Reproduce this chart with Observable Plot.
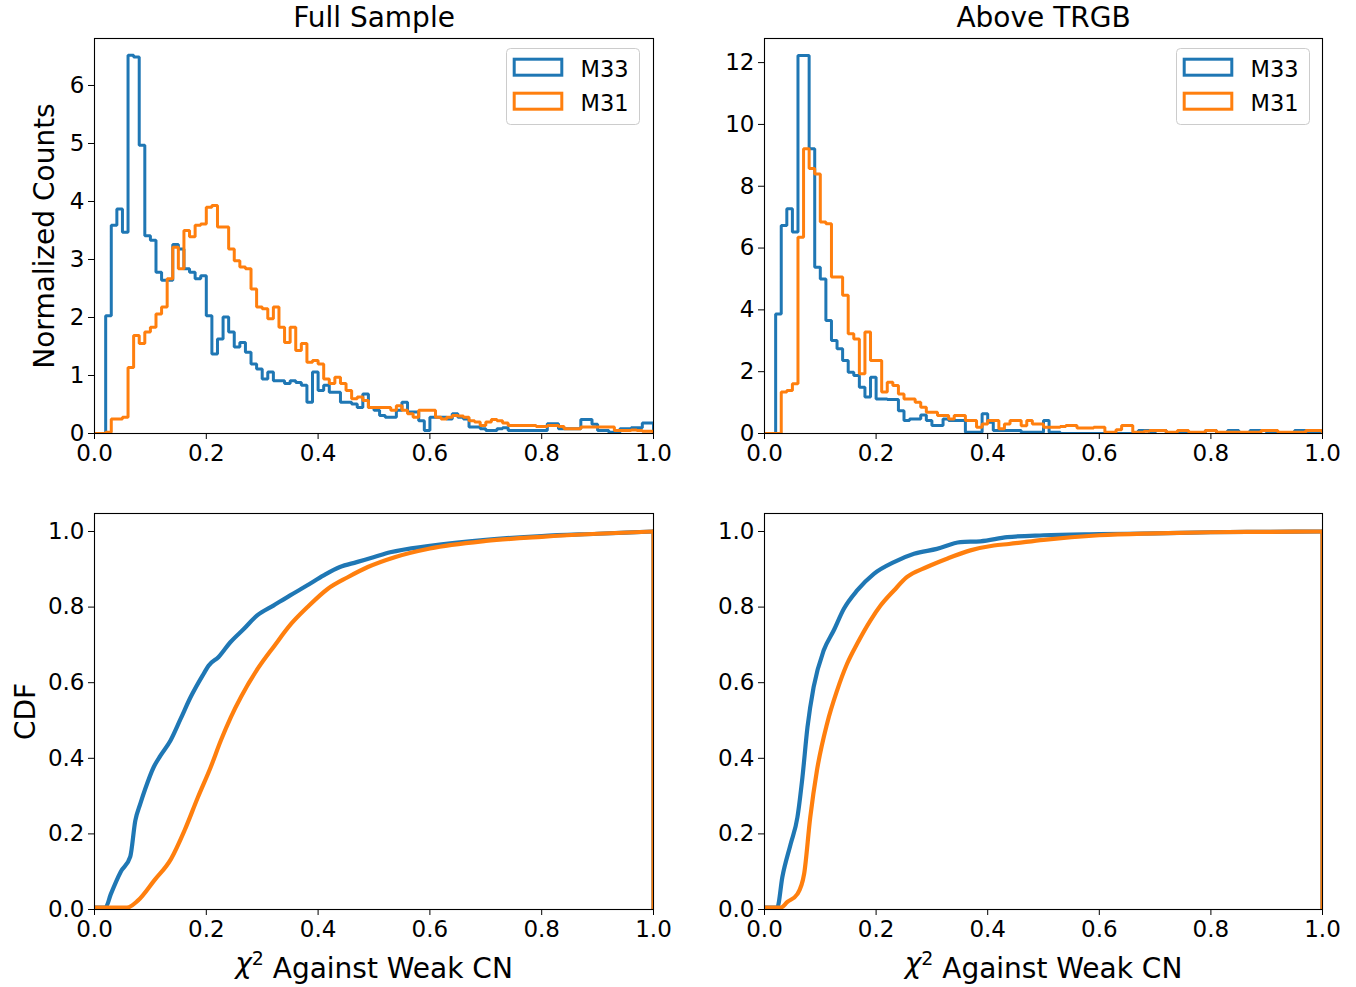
<!DOCTYPE html>
<html><head><meta charset="utf-8">
<script src="https://cdn.jsdelivr.net/npm/d3@7"></script>
<script src="https://cdn.jsdelivr.net/npm/@observablehq/plot@0.6"></script>
<style>
body{margin:0;background:#fff;}
#root{position:relative;width:1356px;height:987px;background:#fff;font-family:"DejaVu Sans",sans-serif;}
#root svg{position:absolute;}
</style></head>
<body><div id="root"></div>
<script>
// ---------- data ----------
const seriesNames = ["M33", "M31"];
const seriesColors = ["#1f77b4", "#ff7f0e"];
const panelTitles = ["Full Sample", "Above TRGB"];
const xTicks = [0, 0.2, 0.4, 0.6, 0.8, 1.0];
const yTicksFull = [0, 1, 2, 3, 4, 5, 6];
const yTicksTrgb = [0, 2, 4, 6, 8, 10, 12];
const yTicksCdf = [0, 0.2, 0.4, 0.6, 0.8, 1.0];
const binStart = 0, binWidth = 0.01;

// normalized counts per 0.01 bin, Full Sample
const fullM33 = [0,0,2.03,3.59,3.87,3.47,6.52,6.49,4.97,3.41,
 3.33,2.78,2.64,2.64,3.26,3.18,2.84,2.78,2.67,2.72,
 2.03,1.37,1.63,2.01,1.75,1.49,1.57,1.40,1.20,1.11,
 0.94,1.06,0.91,0.91,0.86,0.91,0.88,0.83,0.54,1.06,
 0.74,0.83,0.71,0.71,0.54,0.54,0.51,0.45,0.68,0.45,
 0.40,0.31,0.28,0.28,0.40,0.54,0.37,0.37,0.22,0.05,
 0.28,0.28,0.28,0.25,0.34,0.28,0.25,0.11,0.11,0.08,
 0.05,0.05,0.08,0.10,0.05,0.05,0.05,0.05,0.05,0.05,
 0.05,0.17,0.17,0.08,0.08,0.08,0.08,0.24,0.24,0.16,
 0.05,0.05,0.02,0.02,0.08,0.08,0.10,0.10,0.18,0.18];
const fullM31 = [0,0,0.02,0.25,0.25,0.28,1.14,1.69,1.55,1.75,
 1.83,2.06,2.18,2.67,3.21,2.84,3.50,3.39,3.59,3.61,
 3.90,3.93,3.56,3.56,3.18,2.98,2.87,2.84,2.49,2.18,
 2.15,1.98,2.18,1.83,1.57,1.83,1.43,1.55,1.23,1.26,
 1.20,0.94,0.86,0.97,0.86,0.74,0.60,0.63,0.57,0.45,
 0.45,0.45,0.45,0.40,0.48,0.40,0.34,0.28,0.40,0.40,
 0.40,0.28,0.25,0.28,0.31,0.30,0.28,0.22,0.20,0.14,
 0.20,0.24,0.22,0.18,0.14,0.14,0.14,0.14,0.14,0.12,
 0.12,0.14,0.14,0.12,0.08,0.08,0.08,0.11,0.11,0.11,
 0.11,0.11,0.11,0.05,0.05,0.05,0.06,0.05,0.04,0.04];
// normalized counts per 0.01 bin, Above TRGB
const trgbM33 = [0,0,3.87,6.73,7.27,6.52,12.23,12.23,9.21,5.38,
 5.00,3.66,3.01,2.74,2.36,1.98,1.88,1.50,1.18,1.82,
 1.12,1.12,1.10,1.10,0.74,0.42,0.47,0.47,0.60,0.42,
 0.26,0.26,0.47,0.42,0.42,0.42,0.04,0.04,0.04,0.64,
 0.36,0.10,0.10,0.10,0.10,0.10,0.04,0.04,0.04,0.04,
 0.42,0.04,0.04,0,0,0,0,0,0,0,
 0,0,0,0,0,0,0,0.10,0.10,0,
 0.10,0.10,0,0,0,0,0,0,0,0.10,
 0.10,0,0,0.10,0.10,0,0,0.10,0.10,0.10,
 0,0,0,0,0,0.10,0.10,0,0,0];
const trgbM31 = [0,0,0,1.34,1.39,1.61,6.35,9.21,8.57,8.40,
 6.84,6.79,5.06,5.06,4.47,3.23,3.06,1.93,3.28,2.36,
 2.36,1.34,1.66,1.55,1.28,1.12,1.12,1.01,0.85,0.69,
 0.69,0.58,0.58,0.47,0.58,0.58,0.42,0.42,0.20,0.31,
 0.42,0.42,0.15,0.31,0.42,0.42,0.25,0.42,0.31,0.31,
 0.20,0.20,0.20,0.23,0.26,0.26,0.18,0.18,0.18,0.20,
 0.20,0.04,0.04,0.12,0.26,0.26,0.04,0.04,0.07,0.10,
 0.10,0.10,0.04,0.04,0.10,0.10,0.04,0.04,0.04,0.10,
 0.10,0.04,0.04,0.04,0.04,0.04,0.04,0.04,0.04,0.10,
 0.10,0.10,0.04,0.04,0.04,0.04,0.04,0.10,0.10,0.10];

// cumulative distributions (x, CDF); last point is the drop back to 0 at x = 1
const cdfFullM33X = [0,0.02,0.029,0.047,0.064,0.073,0.082,0.091,0.106,0.118,0.136,0.154,0.172,0.195,0.204,0.222,0.243,0.267,0.291,0.32,0.35,0.38,0.41,0.439,0.469,0.499,0.529,0.6,0.7,0.8,0.9,1.0,1.0];
const cdfFullM33Y = [0.005,0.006,0.04,0.10,0.14,0.235,0.28,0.32,0.377,0.407,0.447,0.504,0.562,0.623,0.645,0.668,0.707,0.742,0.778,0.804,0.831,0.857,0.884,0.906,0.919,0.932,0.945,0.962,0.978,0.988,0.994,1.0,0];
const cdfFullM31X = [0,0.058,0.078,0.107,0.137,0.161,0.185,0.208,0.226,0.244,0.262,0.292,0.322,0.352,0.381,0.417,0.453,0.489,0.537,0.6,0.7,0.8,0.9,1.0,1.0];
const cdfFullM31Y = [0.005,0.005,0.024,0.077,0.134,0.209,0.297,0.377,0.447,0.509,0.562,0.637,0.698,0.756,0.80,0.848,0.879,0.906,0.932,0.955,0.975,0.986,0.994,1.0,0];
const cdfTrgbM33X = [0,0.023,0.032,0.047,0.059,0.068,0.077,0.088,0.106,0.124,0.142,0.166,0.196,0.232,0.268,0.309,0.351,0.387,0.435,0.5,0.6,0.7,0.8,0.9,1.0,1.0];
const cdfTrgbM33Y = [0.005,0.006,0.086,0.174,0.244,0.35,0.482,0.588,0.685,0.738,0.795,0.844,0.888,0.919,0.941,0.954,0.972,0.974,0.985,0.99,0.993,0.995,0.998,0.999,1.0,0];
const cdfTrgbM31X = [0,0.029,0.041,0.059,0.071,0.082,0.094,0.112,0.13,0.148,0.166,0.19,0.208,0.232,0.255,0.291,0.327,0.369,0.411,0.438,0.5,0.6,0.7,0.8,0.9,1.0,1.0];
const cdfTrgbM31Y = [0.005,0.005,0.02,0.041,0.094,0.244,0.368,0.491,0.579,0.65,0.703,0.765,0.804,0.844,0.879,0.906,0.928,0.95,0.963,0.967,0.978,0.99,0.995,0.998,0.999,1.0,0];

// ---------- helpers ----------
function stepPoints(vals) {
  const pts = [{x: binStart, y: 0}];
  vals.forEach((v, i) => pts.push({x: binStart + i * binWidth, y: v}));
  pts.push({x: binStart + vals.length * binWidth, y: vals[vals.length - 1]});
  pts.push({x: binStart + vals.length * binWidth, y: 0});
  return pts;
}
function linePoints(xs, ys) { return xs.map((x, i) => ({x, y: ys[i]})); }

const root = document.getElementById("root");
const FONT = '"DejaVu Sans", sans-serif';

function makePanel(cfg) {
  const marks = [];
  cfg.series.forEach((pts, i) => {
    if (cfg.kind === "hist") {
      marks.push(Plot.line(pts, {x: "x", y: "y", curve: "step-after", stroke: seriesColors[i],
        strokeWidth: 3, clip: true, strokeLinejoin: "miter"}));
    } else {
      const main = pts.slice(0, pts.length - 1);
      const drop = pts.slice(pts.length - 2);
      marks.push(Plot.line(main, {x: "x", y: "y", curve: "monotone-x", stroke: seriesColors[i],
        strokeWidth: 4.2, clip: true}));
      marks.push(Plot.line(drop, {x: "x", y: "y", curve: "linear", stroke: seriesColors[i],
        strokeWidth: 4.2, clip: true}));
    }
  });
  marks.push(Plot.frame({stroke: "black", strokeWidth: 1.1}));
  marks.push(Plot.axisX({ticks: xTicks, tickFormat: d3.format(".1f"), tickSize: 6, tickPadding: 5, label: null}));
  marks.push(Plot.axisY({ticks: cfg.yTicks, tickFormat: cfg.yFmt, tickSize: 6, tickPadding: 4, label: null}));
  if (cfg.title) marks.push(Plot.text([cfg.title], {frameAnchor: "top", dy: -20, fontSize: 28,
    textAnchor: "middle", lineAnchor: "middle", text: d => d}));
  if (cfg.ylabel) marks.push(Plot.text([cfg.ylabel], {frameAnchor: "left", dx: cfg.ylabelDx, rotate: -90, fontSize: 28,
    textAnchor: "middle", lineAnchor: "middle", text: d => d}));
  if (cfg.xlabel) marks.push(Plot.text([cfg.xlabel], {frameAnchor: "bottom", dy: 55, fontSize: 28,
    textAnchor: "middle", lineAnchor: "middle", text: d => d}));
  const svg = Plot.plot({
    width: cfg.w, height: cfg.h,
    marginLeft: cfg.ml, marginRight: cfg.mr, marginTop: cfg.mt, marginBottom: cfg.mb,
    x: {domain: [0, 1]},
    y: {domain: cfg.yDomain},
    style: {fontFamily: FONT, fontSize: "23px", color: "black", background: "white", overflow: "visible"},
    marks
  });
  svg.style.left = cfg.left + "px";
  svg.style.top = cfg.top + "px";
  // render χ italic with a raised 2, as in the original math text
  if (cfg.xlabel) {
    svg.querySelectorAll("text").forEach(t => {
      if (t.textContent === cfg.xlabel) {
        t.textContent = "";
        const ns = "http://www.w3.org/2000/svg";
        const a = document.createElementNS(ns, "tspan"); a.setAttribute("font-style", "italic"); a.textContent = "χ";
        const b = document.createElementNS(ns, "tspan"); b.setAttribute("dy", "-0.45em"); b.setAttribute("font-size", "19"); b.textContent = "2";
        const c = document.createElementNS(ns, "tspan"); c.setAttribute("dy", "0.45em"); c.textContent = "\u00a0Against Weak CN";
        t.appendChild(a); t.appendChild(b); t.appendChild(c);
      }
    });
  }
  root.appendChild(svg);
}

function makeLegend(left, top) {
  const ns = "http://www.w3.org/2000/svg";
  const svg = document.createElementNS(ns, "svg");
  svg.setAttribute("width", 135); svg.setAttribute("height", 78);
  svg.style.left = left + "px"; svg.style.top = top + "px";
  const box = document.createElementNS(ns, "rect");
  Object.entries({x: 0.5, y: 0.5, width: 133, height: 76, rx: 4, fill: "white", "fill-opacity": 0.8, stroke: "#cccccc", "stroke-width": 1})
    .forEach(([k, v]) => box.setAttribute(k, v));
  svg.appendChild(box);
  seriesNames.forEach((name, i) => {
    const r = document.createElementNS(ns, "rect");
    Object.entries({x: 8.2, y: 11.2 + i * 34, width: 47.6, height: 16, fill: "none", stroke: seriesColors[i], "stroke-width": 3})
      .forEach(([k, v]) => r.setAttribute(k, v));
    svg.appendChild(r);
    const t = document.createElementNS(ns, "text");
    t.setAttribute("x", 74.5); t.setAttribute("y", 28.7 + i * 34);
    t.setAttribute("font-family", FONT); t.setAttribute("font-size", 22.5);
    t.textContent = name;
    svg.appendChild(t);
  });
  root.appendChild(svg);
}

const fmtInt = d3.format("d"), fmt1 = d3.format(".1f");

makePanel({left: 0, top: 0, w: 680, h: 480, ml: 94, mr: 27, mt: 38, mb: 47,
  yDomain: [0, 6.81], yTicks: yTicksFull, yFmt: fmtInt, kind: "hist",
  series: [stepPoints(fullM33), stepPoints(fullM31)],
  title: panelTitles[0], ylabel: "Normalized Counts", ylabelDx: -49});
makePanel({left: 680, top: 0, w: 676, h: 480, ml: 84, mr: 34, mt: 38, mb: 47,
  yDomain: [0, 12.78], yTicks: yTicksTrgb, yFmt: fmtInt, kind: "hist",
  series: [stepPoints(trgbM33), stepPoints(trgbM31)],
  title: panelTitles[1]});
makePanel({left: 0, top: 480, w: 680, h: 507, ml: 94, mr: 27, mt: 33, mb: 78,
  yDomain: [0, 1.0476], yTicks: yTicksCdf, yFmt: fmt1, kind: "cdf",
  series: [linePoints(cdfFullM33X, cdfFullM33Y), linePoints(cdfFullM31X, cdfFullM31Y)],
  ylabel: "CDF", ylabelDx: -68, xlabel: "χ2 Against Weak CN"});
makePanel({left: 680, top: 480, w: 676, h: 507, ml: 84, mr: 34, mt: 33, mb: 78,
  yDomain: [0, 1.0476], yTicks: yTicksCdf, yFmt: fmt1, kind: "cdf",
  series: [linePoints(cdfTrgbM33X, cdfTrgbM33Y), linePoints(cdfTrgbM31X, cdfTrgbM31Y)],
  xlabel: "χ2 Against Weak CN"});

makeLegend(506, 48);
makeLegend(1176, 48);
</script>
</body></html>
